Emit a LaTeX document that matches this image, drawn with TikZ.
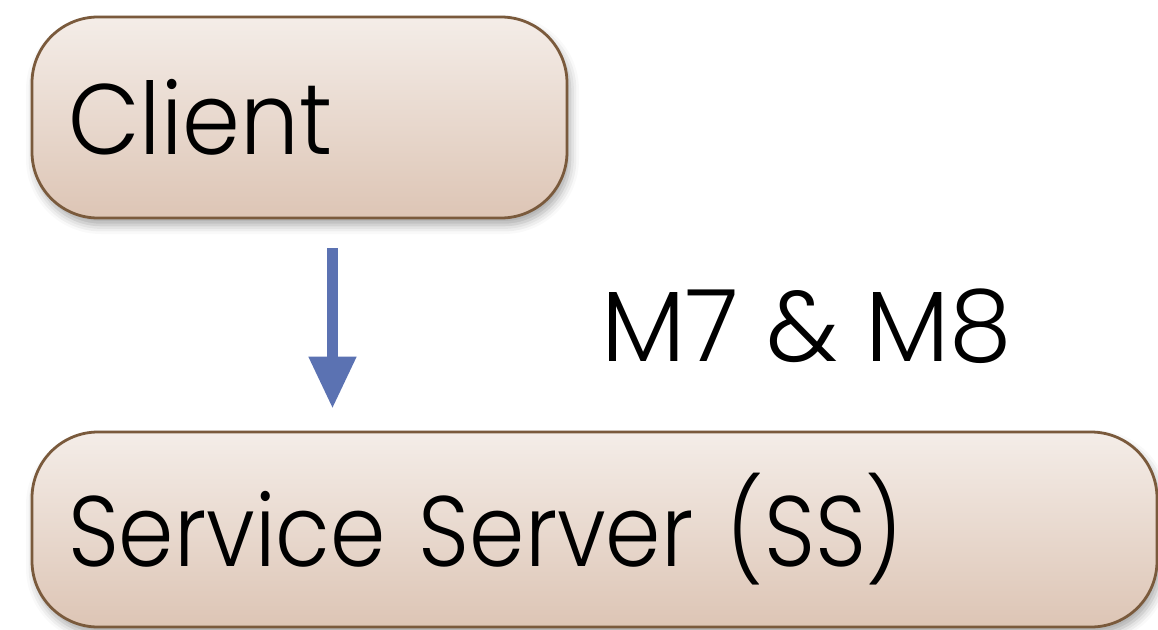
\documentclass[tikz,border=0pt]{standalone}
\usepackage{fontspec}
\setmainfont{Poppins Light}[FakeStretch = 0.89]
\newfontfamily\clientfont{Poppins Light}[FakeStretch = 0.93]
\newfontfamily\msgfont{Poppins Light}[FakeStretch = 1.0]
\usepackage{tikz}
\usetikzlibrary{positioning}
\usetikzlibrary{arrows.meta}
\usetikzlibrary{shadows.blur}
\definecolor{boxtop}{HTML}{F4EDE8}
\definecolor{boxbottom}{HTML}{DDC5B5}
\definecolor{boxline}{HTML}{7A5A3C}
\definecolor{flowblue}{HTML}{5B72B2}

\begin{document}
\begin{tikzpicture}
      [
        x = 1pt, y = -1pt,
        party/.style = {draw = boxline, line width = 2.8pt, rounded corners = 66pt,
            top color = boxtop, bottom color = boxbottom,
            blur shadow = {shadow xshift = 3pt, shadow yshift = -7pt,
                shadow blur radius = 9pt, shadow opacity = 35},
            font = \fontsize{100}{110}\selectfont, align = left,
            inner xsep = 36pt, inner ysep = 0pt},
        flow/.style = {draw = flowblue, line width = 11pt,
            -{Triangle[width = 45pt, length = 52pt]}}
      ]

      \useasboundingbox (0,0) rectangle (1158,629);

      \node[party, minimum width = 535pt, minimum height = 201pt, text width = 463pt]
        (client) at (299.5,117.5) {\clientfont Client};
      \node[party, minimum width = 1125pt, minimum height = 195pt, text width = 1053pt]
        (server) at (594.5,529.5) {Service Server (SS)};

      \node[font = \msgfont\fontsize{100}{110}\selectfont, anchor = base west]
        (msg) at (598,361) {M7 \& M8};

      \draw[flow] ([xshift = 33pt, yshift = -29pt]client.south)
        -- ([xshift = 33pt, yshift = 22pt]client.south |- server.north);

    \end{tikzpicture}
\end{document}
